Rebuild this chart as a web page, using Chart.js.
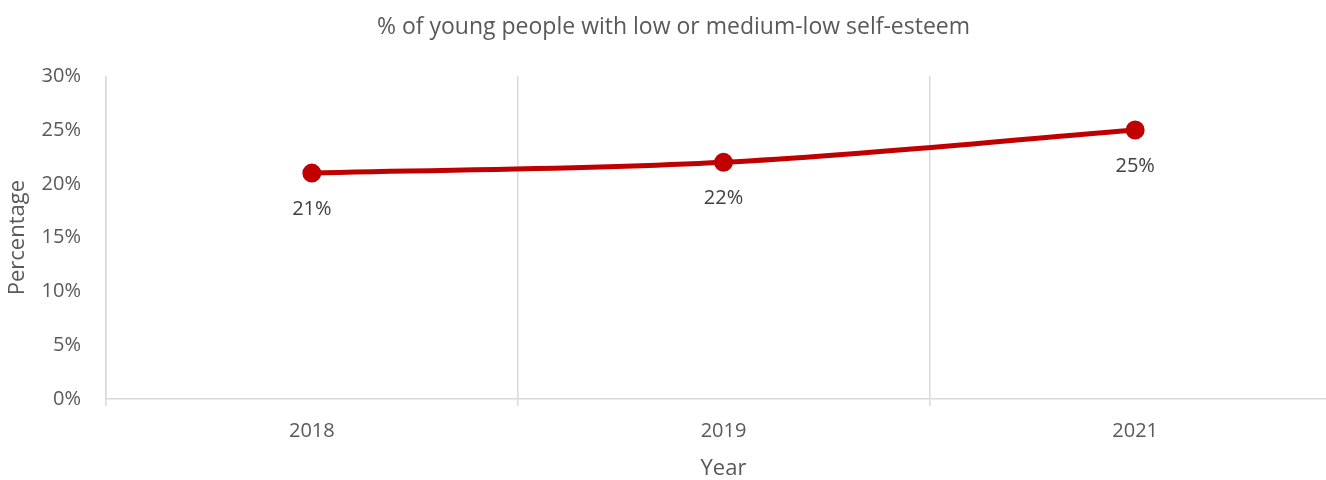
<!DOCTYPE html>
<html>
<head>
<meta charset="utf-8">
<script src="https://cdn.jsdelivr.net/npm/chart.js@4/dist/chart.umd.min.js"></script>
<style>
    html, body { margin: 0; padding: 0; background: #fff; overflow: hidden; }
    #wrap { width: 1353px; height: 480px; }
</style>
</head>
<body>
<div id="wrap"><canvas id="chart"></canvas></div>
<script>
const years = ['2018', '2019', '2021']
const lowSelfEsteem = [21, 22, 25]
const yTicks = [0, 5, 10, 15, 20, 25, 30]

const FONT = '"Open Sans", "Noto Sans", sans-serif'
const TEXT = '#595959'
const GRID = '#d9d9d9'
const RED = '#c00000'

// value labels under each point
const pointLabels = {
    id: 'pointLabels',
    afterDatasetsDraw(chart) {
        const ctx = chart.ctx
        const meta = chart.getDatasetMeta(0)
        ctx.save()
        ctx.font = `20px ${FONT}`
        ctx.fillStyle = '#404040'
        ctx.textAlign = 'center'
        ctx.textBaseline = 'middle'
        meta.data.forEach((pt, i) => {
            ctx.fillText(`${lowSelfEsteem[i]}%`, pt.x, pt.y + 36)
        })
        ctx.restore()
    }
}

new Chart(document.getElementById('chart'), {
    type: 'line',
    data: {
        labels: years,
        datasets: [{
            data: lowSelfEsteem,
            borderColor: RED,
            backgroundColor: RED,
            borderWidth: 5,
            pointRadius: 7,
            pointHoverRadius: 7,
            tension: 0.35,
            borderCapStyle: 'round',
        }]
    },
    options: {
        responsive: true,
        maintainAspectRatio: false,
        animation: false,
        layout: { padding: { left: 0, right: 6, top: 0, bottom: 0 } },
        plugins: {
            legend: { display: false },
            tooltip: { enabled: false },
            title: {
                display: true,
                text: '% of young people with low or medium-low self-esteem',
                color: TEXT,
                font: { family: FONT, size: 23, weight: 'normal', lineHeight: 1.1 },
                padding: { top: 15, bottom: 36 },
            },
        },
        scales: {
            x: {
                offset: true,
                grid: { display: true, offset: true, color: GRID, lineWidth: 1.5, drawTicks: true, tickLength: 7 },
                border: { display: true, color: GRID, width: 1.5 },
                ticks: { color: TEXT, font: { family: FONT, size: 20 }, padding: 13 },
                title: {
                    display: true, text: 'Year', color: TEXT,
                    font: { family: FONT, size: 22, lineHeight: 1.0 }, padding: { top: 2, bottom: 0 },
                },
            },
            y: {
                min: 0,
                max: 30,
                afterFit(scale) { scale.width = 106 },
                afterBuildTicks(scale) { scale.ticks = yTicks.map(v => ({ value: v })) },
                grid: { display: false },
                border: { display: true, color: GRID, width: 1.5 },
                ticks: {
                    color: TEXT, font: { family: FONT, size: 20 }, padding: 17,
                    callback: v => `${v}%`,
                },
                title: {
                    display: true, text: 'Percentage', color: TEXT,
                    font: { family: FONT, size: 22 }, padding: { top: 5, bottom: 0 },
                },
            },
        },
    },
    plugins: [pointLabels],
})
</script>
</body>
</html>
